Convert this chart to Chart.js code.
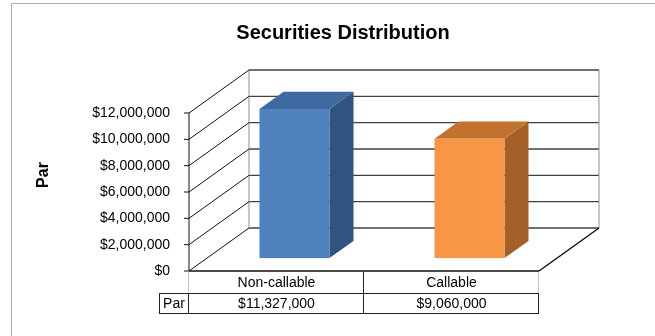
<!DOCTYPE html>
<html>
<head>
<meta charset="utf-8">
<title>Securities Distribution</title>
<script src="https://cdn.jsdelivr.net/npm/chart.js@4.4.1/dist/chart.umd.min.js"></script>
<style>
  html, body { margin: 0; padding: 0; background: #fff; }
  #wrap { width: 655px; height: 336px; }
</style>
</head>
<body>
<div id="wrap"><canvas id="myChart" width="655" height="336"></canvas></div>
<script>
// data
var categories = ['Non-callable', 'Callable'];
var parValues = [11327000, 9060000];
var seriesName = 'Par';
var yTicks = [0, 2000000, 4000000, 6000000, 8000000, 10000000, 12000000];

// colours per bar: front, side, top
var frontColors = ['#4F81BD', '#F79646'];
var sideColors = ['#30537F', '#A5602A'];
var topColors = ['#3E6AA1', '#C1722F'];

var FONT = "'Liberation Sans', Arial, sans-serif";
var depthX = 60, depthY = -43;   // depth of the 3d box
var barFront = 0.3, barBack = 0.7;

function money(v) {
    return '$' + v.toLocaleString('en-US');
}

function line(ctx, x1, y1, x2, y2) {
    ctx.beginPath();
    ctx.moveTo(x1, y1);
    ctx.lineTo(x2, y2);
    ctx.stroke();
}

function poly(ctx, pts, color) {
    ctx.beginPath();
    ctx.moveTo(pts[0][0], pts[0][1]);
    for (var i = 1; i < pts.length; i++) ctx.lineTo(pts[i][0], pts[i][1]);
    ctx.closePath();
    ctx.fillStyle = color;
    ctx.fill();
}

var box3d = {
    id: 'box3d',
    beforeDraw: function(chart) {
        var ctx = chart.ctx;
        ctx.save();
        ctx.fillStyle = '#fff';
        ctx.fillRect(0, 0, chart.width, chart.height);
        // outer frame (only top and left visible)
        ctx.strokeStyle = '#ababab';
        ctx.lineWidth = 1;
        line(ctx, 11.5, 3.5, chart.width, 3.5);
        line(ctx, 11.5, 3.5, 11.5, chart.height);
        ctx.restore();
    },
    beforeDatasetsDraw: function(chart) {
        var ctx = chart.ctx, a = chart.chartArea, ys = chart.scales.y;
        var L = a.left, R = a.right, B = a.bottom, T = a.top;
        ctx.save();
        // back wall gridlines
        ctx.strokeStyle = '#404040';
        ctx.lineWidth = 1.3;
        yTicks.forEach(function(v) {
            var py = ys.getPixelForValue(v);
            line(ctx, L + depthX, py + depthY, R + depthX, py + depthY);
        });
        // back wall edges
        ctx.strokeStyle = '#8c8c8c';
        ctx.lineWidth = 1;
        line(ctx, L + depthX, T + depthY, L + depthX, B + depthY);
        line(ctx, R + depthX, T + depthY, R + depthX, B + depthY);
        // side wall slants
        ctx.strokeStyle = '#111';
        ctx.lineWidth = 1;
        yTicks.forEach(function(v) {
            var py = ys.getPixelForValue(v);
            line(ctx, L, py, L + depthX, py + depthY);
            // tick mark
            line(ctx, L - 5, py, L, py);
        });
        // axis line
        line(ctx, L, T, L, B);
        // floor
        ctx.lineWidth = 1.5;
        line(ctx, L, B, R, B);
        line(ctx, R, B, R + depthX, B + depthY);
        ctx.restore();
    },
    afterDatasetsDraw: function(chart) {
        var ctx = chart.ctx;
        var meta = chart.getDatasetMeta(0);
        var fx = barFront * depthX, fy = barFront * depthY;
        var dx = (barBack - barFront) * depthX, dy = (barBack - barFront) * depthY;
        ctx.save();
        meta.data.forEach(function(bar, i) {
            var x0 = bar.x - bar.width / 2 + fx, x1 = bar.x + bar.width / 2 + fx;
            var yt = bar.y + fy, yb = bar.base + fy;
            // side
            poly(ctx, [[x1, yt], [x1 + dx, yt + dy], [x1 + dx, yb + dy], [x1, yb]], sideColors[i]);
            // top
            poly(ctx, [[x0, yt], [x1, yt], [x1 + dx, yt + dy], [x0 + dx, yt + dy]], topColors[i]);
            // front
            ctx.fillStyle = frontColors[i];
            ctx.fillRect(x0, yt, x1 - x0, yb - yt);
        });
        ctx.restore();
    },
    afterDraw: function(chart) {
        var ctx = chart.ctx, a = chart.chartArea, xs = chart.scales.x;
        var n = categories.length;
        var cw = (a.right - a.left) / n;
        var r1 = a.bottom + 1, r2 = a.bottom + 22, r3 = a.bottom + 42;
        var lab = a.left - 30;
        ctx.save();
        ctx.lineWidth = 1;
        // first row outer lines (light)
        ctx.strokeStyle = '#c0c0c0';
        line(ctx, a.left - 0.5, r1, a.left - 0.5, r2);
        line(ctx, a.right - 0.5, r1, a.right - 0.5, r2);
        // dark lines
        ctx.strokeStyle = '#222';
        for (var i = 1; i < n; i++) {
            var cx = Math.round(a.left + i * cw) - 0.5;
            line(ctx, cx, r1, cx, r3);
        }
        ctx.strokeRect(lab + 0.5, r2 + 0.5, a.right - lab - 1, r3 - r2);
        line(ctx, a.left - 0.5, r2, a.left - 0.5, r3);
        // values row
        ctx.fillStyle = '#000';
        ctx.font = '14px ' + FONT;
        ctx.textAlign = 'center';
        ctx.textBaseline = 'middle';
        ctx.fillText(seriesName, (lab + a.left) / 2, (r2 + r3) / 2 + 1);
        parValues.forEach(function(v, i) {
            ctx.fillText(money(v), xs.getPixelForValue(i), (r2 + r3) / 2 + 1);
        });
        // axis title
        ctx.font = 'bold 16px ' + FONT;
        ctx.translate(44, 175);
        ctx.rotate(-Math.PI / 2);
        ctx.fillText(seriesName, 0, 0);
        ctx.restore();
    }
};

var ctx = document.getElementById('myChart');
var myChart = new Chart(ctx, {
    type: 'bar',
    data: {
        labels: categories,
        datasets: [{
            label: seriesName,
            data: parValues,
            backgroundColor: 'rgba(0,0,0,0)',
            borderWidth: 0,
            categoryPercentage: 1,
            barPercentage: 0.4
        }]
    },
    options: {
        responsive: false,
        animation: false,
        layout: { padding: { left: 31, right: 0, top: 0, bottom: 0 } },
        plugins: {
            legend: { display: false },
            tooltip: { enabled: false },
            title: {
                display: true,
                text: 'Securities Distribution',
                color: '#000',
                font: { family: FONT, size: 20, weight: 'bold' },
                padding: { top: 21, bottom: 68 }
            }
        },
        scales: {
            x: {
                grid: { display: false, drawTicks: false },
                border: { display: false },
                ticks: { color: '#000', font: { family: FONT, size: 14 }, padding: 4 },
                afterFit: function(s) { s.height = 65; }
            },
            y: {
                min: 0,
                max: 12000000,
                grid: { display: false, drawTicks: false },
                border: { display: false },
                ticks: {
                    color: '#000',
                    font: { family: FONT, size: 14 },
                    padding: 19,
                    callback: function(v) { return money(v); }
                },
                afterBuildTicks: function(s) {
                    s.ticks = yTicks.map(function(v) { return { value: v }; });
                },
                afterFit: function(s) { s.width = 158; }
            },
            // empty right-hand space, leaves room for the 3d depth
            depth: {
                type: 'linear',
                position: 'right',
                grid: { display: false, drawTicks: false },
                border: { display: false },
                ticks: { display: false },
                afterFit: function(s) { s.width = 116; }
            }
        }
    },
    plugins: [box3d]
});
</script>
</body>
</html>
